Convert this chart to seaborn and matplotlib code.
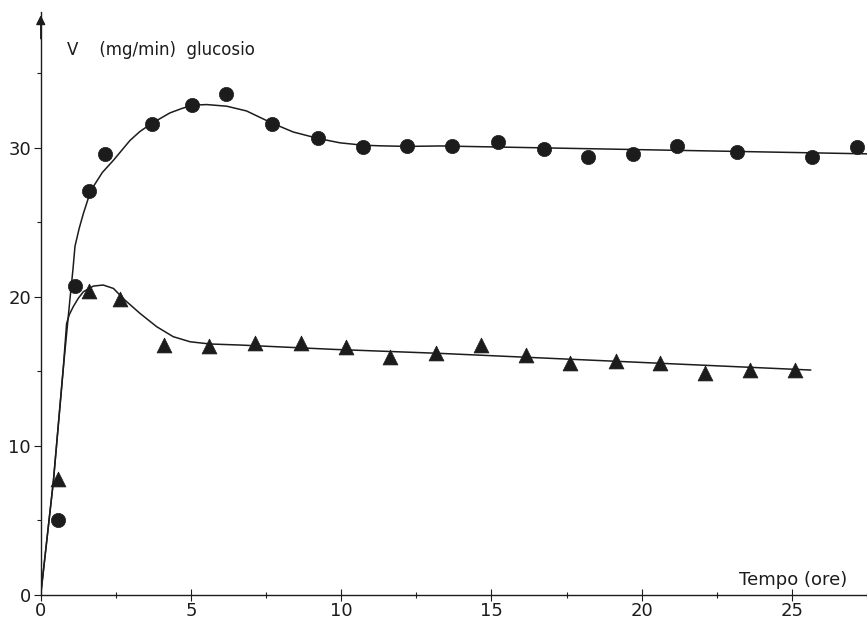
import numpy as np
import pandas as pd
import seaborn as sns
from matplotlib import pyplot as plt
from matplotlib.ticker import MultipleLocator

circ_x = [0.59, 1.14, 1.60, 2.15, 3.69, 5.04, 6.16, 7.69, 9.24, 10.73, 12.18,
          13.70, 15.21, 16.74, 18.23, 19.71, 21.17, 23.16, 25.68, 27.17]
circ_y = [5.0, 20.7, 27.1, 29.6, 31.6, 32.9, 33.65, 31.6, 30.65, 30.05, 30.13,
          30.1, 30.4, 29.9, 29.4, 29.6, 30.1, 29.75, 29.4, 30.05]

tri_x = [0.59, 1.61, 2.64, 4.11, 5.60, 7.13, 8.66, 10.15, 11.62, 13.15, 14.64,
         16.14, 17.61, 19.14, 20.60, 22.12, 23.60, 25.12]
tri_y = [7.77, 20.4, 19.87, 16.76, 16.7, 16.87, 16.87, 16.6, 15.93, 16.2, 16.76,
         16.1, 15.53, 15.68, 15.57, 14.9, 15.08, 15.08]

# hand drawn curves
curve_c_x = [0, 0.42, 0.75, 0.97, 1.07, 1.14, 1.28, 1.42, 1.58, 1.75, 2.05, 2.42,
             2.97, 3.3, 3.69, 4.3, 4.7, 5.06, 5.52, 6.19, 6.85, 7.68, 8.4, 9.24,
             9.96, 10.73, 11.29, 12.18, 13.3, 27.5]
curve_c_y = [0, 7.6, 15.2, 19.8, 21.8, 23.4, 24.6, 25.6, 26.6, 27.4, 28.35, 29.17,
             30.5, 31.1, 31.64, 32.35, 32.65, 32.87, 32.91, 32.8, 32.48, 31.68, 31.07, 30.63,
             30.34, 30.18, 30.14, 30.1, 30.13, 29.6]

curve_t_x = [0, 0.42, 0.75, 0.86, 0.95, 1.08, 1.25, 1.42, 1.75, 2.08, 2.42, 2.8,
             3.3, 3.86, 4.41, 4.97, 5.63, 6.63, 9.73, 13.28, 25.63]
curve_t_y = [0, 7.6, 15.2, 18.2, 18.8, 19.33, 19.9, 20.34, 20.72, 20.79, 20.56, 19.78,
             18.89, 17.99, 17.32, 16.98, 16.83, 16.76, 16.47, 16.2, 15.08]

sns.set_style('ticks')
plt.rcParams['font.family'] = ['DejaVu Sans']

fig = plt.figure(figsize=(8.67, 6.2), dpi=100)
ax = fig.add_axes([0.047, 0.041, 0.953, 0.939])

ink = '#1c1c1c'
sns.lineplot(x=curve_c_x, y=curve_c_y, sort=False, color=ink, lw=1.1, ax=ax)
sns.lineplot(x=curve_t_x, y=curve_t_y, sort=False, color=ink, lw=1.1, ax=ax)
sns.scatterplot(x=circ_x, y=circ_y, marker='o', s=105, color=ink,
                edgecolor=ink, linewidth=0.5, ax=ax, zorder=3, clip_on=False)
sns.scatterplot(x=tri_x, y=tri_y, marker='^', s=115, color=ink,
                edgecolor=ink, linewidth=0.5, ax=ax, zorder=3)

ax.set_xlim(0, 27.5)
ax.set_ylim(0, 39.1)
sns.despine(ax=ax)
for sp in ['left', 'bottom']:
    ax.spines[sp].set_color(ink)
    ax.spines[sp].set_linewidth(1.0)

ax.xaxis.set_major_locator(MultipleLocator(5))
ax.xaxis.set_minor_locator(MultipleLocator(2.5))
ax.yaxis.set_major_locator(MultipleLocator(10))
ax.yaxis.set_minor_locator(MultipleLocator(5))
ax.tick_params(axis='x', which='major', direction='inout', length=8, width=0.8,
               labelsize=13, pad=1, colors=ink)
ax.tick_params(axis='x', which='minor', direction='inout', length=5, width=0.8, colors=ink)
ax.tick_params(axis='y', which='major', direction='out', length=5, width=0.8,
               labelsize=13, pad=2, colors=ink)
ax.tick_params(axis='y', which='minor', direction='out', length=3, width=0.8, colors=ink)
ax.set_xlabel('')
ax.set_ylabel('')

# arrow head on the y axis
ax.annotate('', xy=(0, 1.0), xycoords='axes fraction', xytext=(0, 0.95),
            arrowprops=dict(arrowstyle='-|>', color=ink, lw=1.0, mutation_scale=14))

ax.text(0.87, 36.6, 'V    (mg/min)  glucosio', fontsize=12, color=ink, va='center')
ax.text(26.85, 0.35, 'Tempo (ore)', fontsize=13, color=ink, ha='right', va='bottom')

plt.savefig('out.png', dpi=100)
